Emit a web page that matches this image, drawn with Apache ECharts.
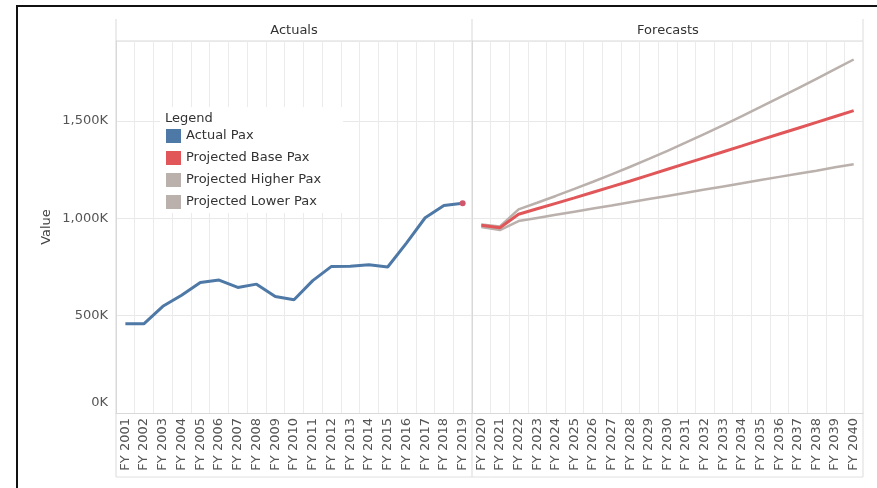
<!DOCTYPE html>
<html>
<head>
<meta charset="utf-8">
<script src="https://cdn.jsdelivr.net/npm/echarts@6/dist/echarts.min.js"></script>
<style>
html, body { margin: 0; padding: 0; background: #fff; }
#main { width: 877px; height: 488px; }
</style>
</head>
<body>
<div id="main"></div>
<script>
// categories
var actualYears = ['FY 2001', 'FY 2002', 'FY 2003', 'FY 2004', 'FY 2005', 'FY 2006', 'FY 2007',
    'FY 2008', 'FY 2009', 'FY 2010', 'FY 2011', 'FY 2012', 'FY 2013', 'FY 2014', 'FY 2015',
    'FY 2016', 'FY 2017', 'FY 2018', 'FY 2019'];
var forecastYears = ['FY 2020', 'FY 2021', 'FY 2022', 'FY 2023', 'FY 2024', 'FY 2025', 'FY 2026',
    'FY 2027', 'FY 2028', 'FY 2029', 'FY 2030', 'FY 2031', 'FY 2032', 'FY 2033', 'FY 2034',
    'FY 2035', 'FY 2036', 'FY 2037', 'FY 2038', 'FY 2039', 'FY 2040'];

// series values
var actualPax = [458000, 459000, 548000, 605000, 670000, 683000, 645000, 662000, 598000, 582000,
    680000, 753000, 754000, 762000, 750000, 873000, 1003000, 1066000, 1077000];
var baseAt2019 = 1077000;
var basePax = [964000, 952000, 1021000, 1049000, 1077000, 1105000, 1134000, 1163000, 1192000, 1222000,
    1252000, 1282000, 1312000, 1342000, 1372000, 1403000, 1433000, 1463000, 1493000, 1523000, 1553000];
var higherPax = [968000, 958000, 1046000, 1080000, 1115000, 1151000, 1188000, 1226000, 1265000, 1305000,
    1347000, 1390000, 1434000, 1479000, 1525000, 1572000, 1620000, 1668000, 1717000, 1766000, 1816000];
var lowerPax = [955000, 940000, 986000, 1002000, 1018000, 1034000, 1050000, 1066000, 1083000, 1099000,
    1115000, 1131000, 1148000, 1164000, 1180000, 1197000, 1213000, 1229000, 1245000, 1262000, 1278000];

// y ticks
var yMax = 1911000;
var yStep = 500000;

var baseActuals = actualYears.map(function (y, i) {
    return i === actualYears.length - 1 ? baseAt2019 : null;
});

var font = 'DejaVu Sans';
var fs = 13;
var blue = '#4e79a7', red = '#e15759', grey = '#bab0ac';
var gridLine = '#e8e8e8', panelLine = '#d9d9d9';

function yLabel(v) {
    if (v % yStep !== 0) return '';
    var s = (v / 1000).toLocaleString('en-US') + 'K';
    return v === 0 ? '{z|' + s + '}' : s;
}

function makeX(idx, data) {
    return {
        type: 'category',
        gridIndex: idx,
        data: data,
        boundaryGap: true,
        axisLine: {lineStyle: {color: panelLine}},
        axisTick: {show: false},
        axisLabel: {rotate: 90, interval: 0, margin: 5, color: '#555', fontSize: fs, fontFamily: font},
        splitLine: {show: true, interval: 0, lineStyle: {color: '#ebebeb'}}
    };
}

function makeY(idx, labels) {
    return {
        type: 'value',
        gridIndex: idx,
        min: 0,
        max: yMax,
        interval: yStep,
        name: labels ? 'Value' : '',
        nameLocation: 'middle',
        nameGap: 63,
        nameTextStyle: {color: '#444', fontSize: fs, fontFamily: font},
        axisLine: {show: true, lineStyle: {color: panelLine}},
        axisTick: {show: false},
        axisLabel: {
            show: labels, margin: 8, color: '#555', fontSize: fs, fontFamily: font,
            showMaxLabel: false, formatter: yLabel,
            rich: {z: {color: '#555', fontSize: fs, fontFamily: font, padding: [0, 0, 20, 0]}}
        },
        splitLine: {lineStyle: {color: gridLine}}
    };
}

function line(name, x, data, color, width, z) {
    return {
        name: name,
        type: 'line',
        xAxisIndex: x,
        yAxisIndex: x,
        data: data,
        showSymbol: false,
        symbol: 'none',
        color: color,
        lineStyle: {color: color, width: width},
        z: z,
        silent: true,
        animation: false
    };
}

var chart = echarts.init(document.getElementById('main'));

var dot = line('Projected Base Pax', 0, baseActuals, red, 3, 5);
dot.symbol = 'circle';
dot.showSymbol = true;
dot.symbolSize = 6;
dot.itemStyle = {color: '#d0566b'};

var option = {
    animation: false,
    grid: [
        {left: 116, top: 41, width: 356, height: 372},
        {left: 472, top: 41, width: 391, height: 372}
    ],
    xAxis: [makeX(0, actualYears), makeX(1, forecastYears)],
    yAxis: [makeY(0, true), makeY(1, false)],
    legend: {
        orient: 'vertical',
        left: 160,
        top: 107,
        padding: [22, 22, 4, 6],
        backgroundColor: '#fff',
        icon: 'rect',
        itemWidth: 15,
        itemHeight: 14,
        itemGap: 8,
        selectedMode: false,
        textStyle: {color: '#333', fontSize: fs, fontFamily: font},
        data: [
            {name: 'Actual Pax', itemStyle: {color: blue}},
            {name: 'Projected Base Pax', itemStyle: {color: red}},
            {name: 'Projected Higher Pax', itemStyle: {color: grey}},
            {name: 'Projected Lower Pax', itemStyle: {color: grey}}
        ],
        z: 10
    },
    graphic: [
        {type: 'text', left: 165, top: 112, z: 100,
            style: {text: 'Legend', fill: '#333', fontSize: fs, fontFamily: font}},
        {type: 'text', x: 294, y: 31, z: 100,
            style: {text: 'Actuals', fill: '#333', fontSize: fs, fontFamily: font, align: 'center', verticalAlign: 'middle'}},
        {type: 'text', x: 668, y: 31, z: 100,
            style: {text: 'Forecasts', fill: '#333', fontSize: fs, fontFamily: font, align: 'center', verticalAlign: 'middle'}},
        // panel frame lines
        {type: 'line', shape: {x1: 116, y1: 41, x2: 863, y2: 41}, style: {stroke: panelLine, lineWidth: 1}},
        {type: 'line', shape: {x1: 116, y1: 477, x2: 863, y2: 477}, style: {stroke: '#e0e0e0', lineWidth: 1}},
        {type: 'line', shape: {x1: 116, y1: 19, x2: 116, y2: 477}, style: {stroke: panelLine, lineWidth: 1}},
        {type: 'line', shape: {x1: 472, y1: 19, x2: 472, y2: 477}, style: {stroke: panelLine, lineWidth: 1}},
        {type: 'line', shape: {x1: 863, y1: 19, x2: 863, y2: 477}, style: {stroke: '#dcdcdc', lineWidth: 1}},
        // outer black frame
        {type: 'polyline', shape: {points: [[17, 488], [17, 6], [877, 6]]}, style: {stroke: '#111', lineWidth: 2, fill: null}}
    ],
    series: [
        line('Actual Pax', 0, actualPax, blue, 3, 3),
        dot,
        line('Projected Lower Pax', 1, lowerPax, grey, 2.5, 2),
        line('Projected Higher Pax', 1, higherPax, grey, 2.5, 2),
        line('Projected Base Pax', 1, basePax, red, 3, 4)
    ]
};

chart.setOption(option);
</script>
</body>
</html>
